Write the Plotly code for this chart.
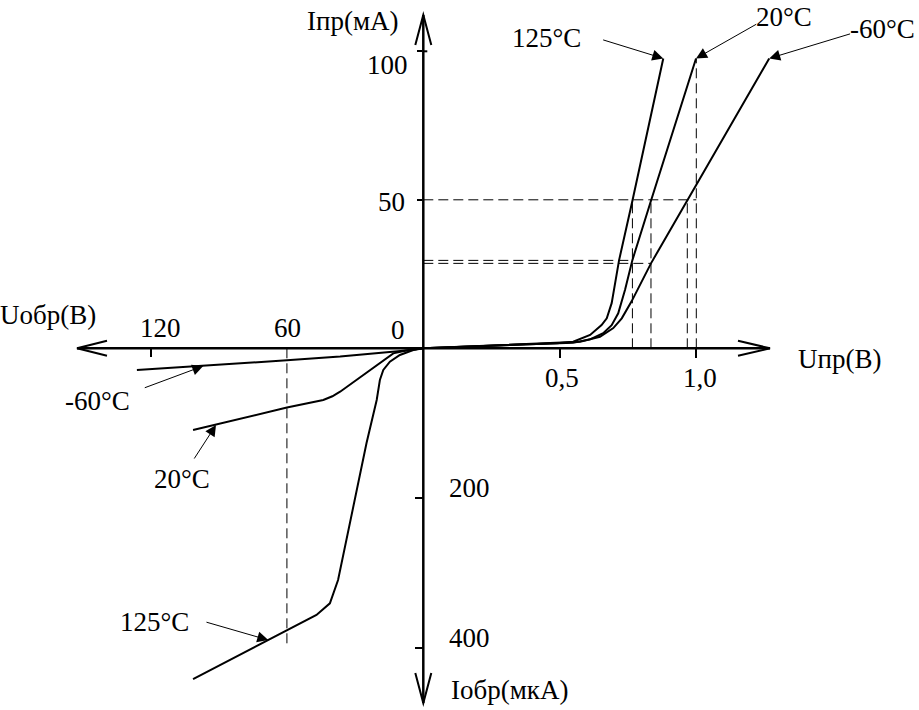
import plotly.graph_objects as go

# ---------------- data ----------------
# Forward branch: U_pr (V), I_pr (mA)
u_fwd_125 = [0, 0.25, 0.49, 0.549, 0.611, 0.653, 0.672, 0.690, 0.717, 0.766, 0.879]
i_fwd_125 = [0, 0.9, 1.7, 2.2, 4.5, 7.8, 10.1, 15.2, 29.6, 49.7, 97.6]
u_fwd_20 = [0, 0.25, 0.49, 0.549, 0.611, 0.659, 0.690, 0.714, 0.739, 0.766, 0.834, 0.999]
i_fwd_20 = [0, 0.9, 1.7, 1.9, 3.0, 5.1, 7.8, 11.8, 19.7, 29.7, 49.7, 97.6]
u_fwd_m60 = [0, 0.25, 0.49, 0.574, 0.647, 0.696, 0.727, 0.763, 0.834, 0.967, 1.267]
i_fwd_m60 = [0, 0.9, 1.7, 2.2, 3.9, 6.8, 10.1, 15.8, 28.6, 49.7, 97.6]

# Reverse branch: U_obr (V), I_obr (uA)
u_rev_125 = [0, 4.4, 10.3, 14.7, 17.6, 19.1, 20.5, 25, 37.5, 41.1, 47, 68.2, 101.3]
i_rev_125 = [0, 2.3, 8.9, 17.9, 28.9, 42.3, 68.9, 126.7, 309, 340, 355.6, 389, 441]
u_rev_20 = [0, 4, 8, 13.2, 20, 28, 36.6, 40, 44, 60, 101.3]
i_rev_20 = [0, 1.3, 3.2, 6.7, 21.6, 39, 57.9, 64, 68.9, 79, 109]
u_rev_m60 = [0, 10, 36.6, 60, 126]
i_rev_m60 = [0, 3.5, 11, 16, 29]

# guide (dashed) lines
fwd_levels_i = [50, 29.6, 28.6]          # mA
fwd_levels_u_end = [1.0, 0.766, 0.834]   # V
fwd_marks_u = [0.766, 0.834, 0.967, 1.0]
fwd_marks_i_top = [50, 50, 50, 97.6]
rev_mark_u = 60
rev_mark_i = 400

fwd_u_ticks = [0.5, 1.0]
fwd_u_labels = ["0,5", "1,0"]
fwd_i_ticks = [50, 100]
fwd_i_labels = ["50", "100"]
rev_u_ticks = [120]
rev_u_labels = ["120", "60"]
rev_i_ticks = [200, 400]
rev_i_labels = ["200", "400"]

temps = ["125°C", "20°C", "-60°C"]

# ---------------- geometry helpers (pixels -> paper) ----------------
W, H = 919, 710
OX, OY = 423.3, 348.3
PX = lambda x: x / W
PY = lambda y: 1 - y / H

FONT = "Liberation Serif, Times New Roman, serif"
FS = 27

fig = go.Figure()
line_style = dict(color="black", width=2)
dash_style = dict(color="black", width=1, dash="10px,5px")

# curves
for u, i in [(u_fwd_125, i_fwd_125), (u_fwd_20, i_fwd_20), (u_fwd_m60, i_fwd_m60)]:
    fig.add_trace(go.Scatter(x=u, y=i, mode="lines", line=line_style, xaxis="x", yaxis="y"))
for u, i in [(u_rev_125, i_rev_125), (u_rev_20, i_rev_20), (u_rev_m60, i_rev_m60)]:
    fig.add_trace(go.Scatter(x=u, y=i, mode="lines", line=line_style, xaxis="x2", yaxis="y2"))

# dashed guides
for lvl, uend in zip(fwd_levels_i, fwd_levels_u_end):
    fig.add_trace(go.Scatter(x=[0, uend], y=[lvl, lvl], mode="lines", line=dash_style, xaxis="x", yaxis="y"))
for u, itop in zip(fwd_marks_u, fwd_marks_i_top):
    fig.add_trace(go.Scatter(x=[u, u], y=[0, itop], mode="lines", line=dash_style, xaxis="x", yaxis="y"))
fig.add_trace(go.Scatter(x=[rev_mark_u, rev_mark_u], y=[0, rev_mark_i], mode="lines", line=dash_style,
                         xaxis="x2", yaxis="y2"))

# axes lines and open arrowheads (decoration, pixel based)
shapes = []
ax_line = dict(color="black", width=2.5)
shapes.append(dict(type="line", xref="paper", yref="paper", x0=PX(77), y0=PY(OY), x1=PX(770), y1=PY(OY), line=ax_line))
shapes.append(dict(type="line", xref="paper", yref="paper", x0=PX(OX), y0=PY(15), x1=PX(OX), y1=PY(703), line=ax_line))
arrow_line = dict(color="black", width=2)
def chevron(tx, ty, bx1, by1, bx2, by2):
    shapes.append(dict(type="path", xref="paper", yref="paper",
                       path=f"M {PX(bx1)} {PY(by1)} L {PX(tx)} {PY(ty)} L {PX(bx2)} {PY(by2)}",
                       line=arrow_line))
chevron(770, OY, 738, OY - 7.5, 738, OY + 7.5)
chevron(77, OY, 107, OY - 7.5, 107, OY + 7.5)
chevron(OX, 15, OX - 8, 45, OX + 8, 45)
chevron(OX, 703, OX - 8, 673, OX + 8, 673)
# small crossing part of the 100 tick
shapes.append(dict(type="line", xref="paper", yref="paper", x0=PX(OX), y0=PY(51.3), x1=PX(OX + 4), y1=PY(51.3),
                   line=dict(color="black", width=2)))

annotations = []
def text(t, x, y):
    annotations.append(dict(text=t, x=PX(x), y=PY(y), xref="paper", yref="paper", showarrow=False,
                            xanchor="center", yanchor="middle", font=dict(family=FONT, size=FS, color="black")))

text("Iпр(мА)", 352.5, 21)
text(fwd_i_labels[1], 387, 64.5)
text(fwd_i_labels[0], 391.5, 202.5)
text("0", 398.3, 330)
text(rev_u_labels[0], 160, 328)
text(rev_u_labels[1], 287.5, 328)
text(fwd_u_labels[0], 561.5, 378)
text(fwd_u_labels[1], 700, 378)
text("Uпр(В)", 839, 359)
text("Uобр(В)", 48, 315)
text(rev_i_labels[0], 470, 488)
text(rev_i_labels[1], 470, 638)
text("Iобр(мкА)", 510, 690)
text(temps[0], 546.5, 38)
text(temps[1], 784, 17)
text(temps[2], 882, 29)
text(temps[2], 97.5, 401)
text(temps[1], 181.5, 479)
text(temps[0], 154, 622)

def pointer(x, y, ax, ay, xref, yref):
    annotations.append(dict(text="", x=x, y=y, xref=xref, yref=yref, ax=ax, ay=ay,
                            showarrow=True, arrowhead=2, arrowsize=2.2, arrowwidth=1,
                            arrowcolor="black", standoff=0, startstandoff=0))

pointer(u_fwd_125[-1], i_fwd_125[-1], -61.6, -19, "x", "y")
pointer(u_fwd_20[-1], i_fwd_20[-1], 61.7, -35, "x", "y")
pointer(u_fwd_m60[-1], i_fwd_m60[-1], 82.4, -25, "x", "y")
pointer(96.8, 23.6, -60, 22.3, "x2", "y2")
pointer(91.2, 102.3, -22.7, 35, "x2", "y2")
pointer(68.2, 389, -63.3, -18.3, "x2", "y2")

tick_common = dict(showgrid=False, zeroline=False, showline=False, showticklabels=False,
                   tickcolor="black", tickwidth=2)

fig.update_layout(
    width=W, height=H, autosize=False,
    margin=dict(l=0, r=0, t=0, b=0, pad=0),
    paper_bgcolor="white", plot_bgcolor="rgba(0,0,0,0)",
    showlegend=False,
    xaxis=dict(domain=[PX(OX), 1], range=[0, (W - OX) / 273.0], anchor="y",
               tickvals=fwd_u_ticks, ticks="outside", ticklen=9, **tick_common),
    yaxis=dict(domain=[PY(OY), 1], range=[0, OY / 2.97], anchor="x",
               tickvals=fwd_i_ticks, ticks="outside", ticklen=5, **tick_common),
    xaxis2=dict(domain=[0, PX(OX)], range=[OX / 2.273, 0], anchor="y2", side="top",
                tickvals=rev_u_ticks, ticks="inside", ticklen=9, **tick_common),
    yaxis2=dict(domain=[0, PY(OY)], range=[(H - OY) / 0.75, 0], anchor="x2", side="right",
                tickvals=rev_i_ticks, ticks="inside", ticklen=8, **tick_common),
    shapes=shapes,
    annotations=annotations,
)

fig.write_html("out.html", config={"displayModeBar": False},
               post_script="document.body.style.margin='0';")
